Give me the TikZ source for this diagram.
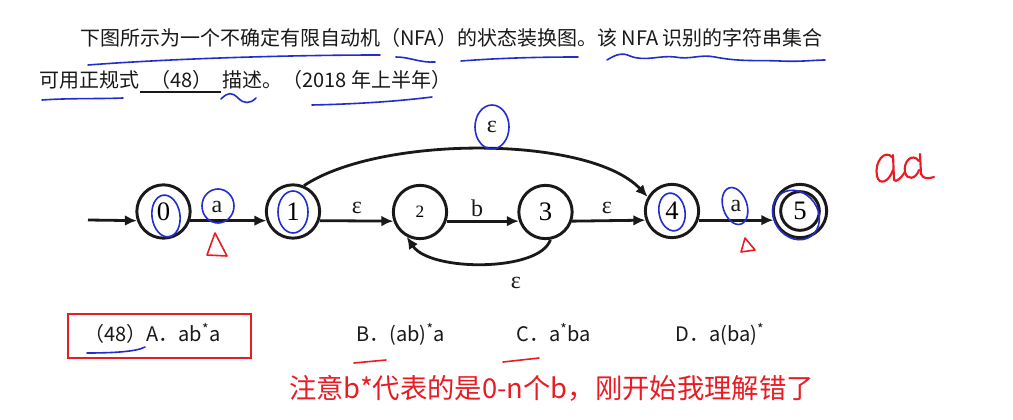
\documentclass[tikz,border=0pt]{standalone}
\usepackage{fontspec}
\setmainfont{Liberation Serif}
\newfontfamily\cjk{Noto Sans CJK SC}
\usetikzlibrary{arrows.meta}
\definecolor{hb}{RGB}{35,45,205}
\definecolor{hr}{RGB}{232,28,36}
\definecolor{ink}{RGB}{25,25,25}
\tikzset{
  state/.style={circle,draw=ink,line width=2.2pt,minimum size=40pt,inner sep=0pt,
    font=\fontsize{20}{20}\selectfont},
  tr/.style={draw=ink,line width=2.1pt,-{Latex[length=9pt,width=8pt]}},
  lbl/.style={font=\fontsize{18}{18}\selectfont,inner sep=0pt,text=ink},
  hand/.style={draw=hb,line width=1.2pt,line cap=round},
  handr/.style={draw=hr,line width=1.2pt,line cap=round,line join=round},
  txt/.style={font=\cjk\fontsize{15}{15}\selectfont,inner sep=0pt,anchor=base west,text=ink},
  opt/.style={font=\cjk\fontsize{15}{15}\selectfont,inner sep=0pt,anchor=base west,text=ink},
}
\begin{document}
\begin{tikzpicture}[x=0.75pt,y=-0.75pt]
\useasboundingbox (0,0) rectangle (1013,420);
\fill[white] (0,0) rectangle (1013,420);

% ---- question text ----
\node[txt] (l1) at (80,46) {下图所示为一个不确定有限自动机（NFA）的状态装换图。该 NFA 识别的字符串集合};
\node[txt] (l2a) at (39,88) {可用正规式};
\node[txt] (l2b) at (150,88) {（48）};
\node[txt] (l2c) at (222,88) {描述。（2018 年上半年）};
\draw[ink,line width=1.1pt] (140,92) -- (221,92);

% ---- states ----
\node[state] (s0) at (163.5,211.5) {0};
\node[state] (s1) at (293,211.5) {1};
\node[state,font=\fontsize{13}{13}\selectfont] (s2) at (420,212) {2};
\node[state] (s3) at (545.5,212) {3};
\node[state] (s4) at (672,211) {4};
\node[state] (s5) at (800,211) {5};
\node[circle,draw=ink,line width=2.2pt,minimum size=29pt,inner sep=0pt] (s5in) at (s5) {};

\coordinate (start) at (88,220);
\draw[tr] (start) -- (s0.199);
\draw[tr] (s0.-19) -- (s1.199);
\draw[tr] (s1.-19) -- (s2.199);
\draw[tr] (s2.-19) -- (s3.199);
\draw[tr] (s3.-19) -- (s4.199);
\draw[tr] (s4.-19) -- (s5.199);
\draw[tr] (s1.67) .. controls (380,135) and (590,135) .. (s4.150);
\draw[tr] (s3.-80) .. controls (540,272) and (430,272) .. (s2.-118);

\node[lbl] (la1) at (217,207) {a};
\node[lbl] (le12) at (357,208) {ε};
\node[lbl] (lb) at (477,208) {b};
\node[lbl] (le34) at (607,208) {ε};
\node[lbl] (la2) at (736,206) {a};
\node[lbl] (letop) at (492,127) {ε};
\node[lbl] (lebot) at (516,283) {ε};

% ---- options ----
\node[opt] (oa) at (84,341) {（48）A．ab\textsuperscript{*}a};
\node[opt] (ob) at (356,341) {B．(ab)\textsuperscript{*}a};
\node[opt] (oc) at (516,341) {C．a\textsuperscript{*}ba};
\node[opt] (od) at (675,341) {D．a(ba)\textsuperscript{*}};
\draw[hr,line width=2.2pt] (68,314) rectangle (251,358);

\node[font=\cjk\fontsize{20.5}{20.5}\selectfont,text=hr,inner sep=0pt,anchor=base west] (note) at (289,398)
  {注意b*代表的是0-n个b，刚开始我理解错了};

% ---- handwritten blue marks ----
\draw[hand] (88,65) .. controls (180,58) and (300,55) .. (380,55);
\draw[hand] (396,57) .. controls (410,57) and (420,63) .. (435,62);
\draw[hand] (461,61) .. controls (500,58) and (540,57) .. (578,57);
\draw[hand] (607,60) .. controls (615,55) and (622,52) .. (630,56) .. controls (645,62) and (660,55) .. (675,57)
  .. controls (690,60) and (700,54) .. (715,57) .. controls (740,62) and (760,60) .. (780,61)
  .. controls (800,62) and (815,60) .. (825,60);
\draw[hand] (42,100) .. controls (70,98) and (100,99) .. (123,98);
\draw[hand] (221,99) .. controls (228,92) and (232,92) .. (238,98) .. controls (244,104) and (250,104) .. (256,98);
\draw[hand] (312,105) .. controls (360,104) and (400,101) .. (432,97);
\draw[hand] (87,353) .. controls (110,353) and (136,352) .. (145,347);

\draw[hand,rotate around={8:(166,216)}] (166,216) ellipse [x radius=14,y radius=21];
\draw[hand] (218,206) ellipse [x radius=16,y radius=17];
\draw[hand] (293,212) ellipse [x radius=15,y radius=21];
\draw[hand] (492,127) ellipse [x radius=17,y radius=22];
\draw[hand,rotate around={10:(672,212)}] (672,212) ellipse [x radius=13,y radius=19];
\draw[hand,rotate around={18:(735,206)}] (735,206) ellipse [x radius=12,y radius=19];
\draw[hand,rotate around={35:(796,215)}] (796,215) ellipse [x radius=22,y radius=26];

% ---- handwritten red marks ----
\draw[handr] (215,233) -- (207,255) -- (227,256) -- cycle;
\draw[handr] (745,238) -- (741,252) -- (755,250) -- cycle;
\draw[handr] (354,363) -- (386,360);
\draw[handr] (503,362) -- (539,358);
\draw[handr,line width=1.6pt] (893,158) .. controls (885,148) and (874,162) .. (877,176)
  .. controls (879,186) and (889,182) .. (893,170);
\draw[handr,line width=1.6pt] (893,155) -- (894,180) .. controls (896,183) and (901,178) .. (905,172);
\draw[handr,line width=1.6pt] (919,161) .. controls (912,152) and (903,162) .. (905,172)
  .. controls (907,181) and (916,179) .. (919,170);
\draw[handr,line width=1.6pt] (920,154) -- (921,174) .. controls (923,179) and (928,179) .. (934,177);
\end{tikzpicture}
\end{document}
